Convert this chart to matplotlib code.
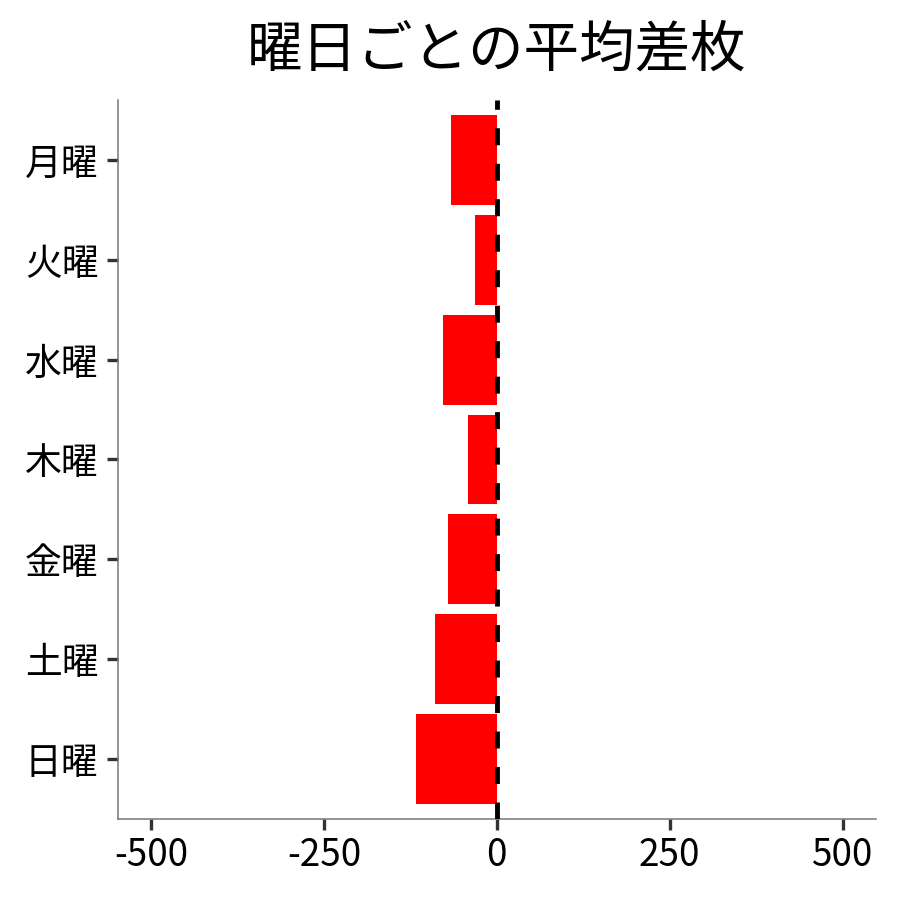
import numpy as np
import matplotlib
matplotlib.use('Agg')
import matplotlib.pyplot as plt

plt.rcParams['font.family'] = ['Noto Sans CJK JP', 'DejaVu Sans']

# ~~ data ~~
days = ['月曜', '火曜', '水曜', '木曜', '金曜', '土曜', '日曜']
avg_diff = [-66, -31, -78, -41, -70, -89, -117]
xticks = [-500, -250, 0, 250, 500]

fig = plt.figure(figsize=(9, 9), dpi=100)
ax = fig.add_axes([0.131, 0.09, 0.842, 0.799])

ypos = np.arange(len(days))
ax.barh(ypos, avg_diff, height=0.9, color='#ff0000', zorder=2)
# dashed zero line on top of the bars
ax.axvline(0, color='black', linewidth=3.5, linestyle=(0, (3.5, 3.8)), zorder=3)

ax.set_yticks(ypos)
ax.set_yticklabels(days)
ax.set_ylim(len(days) - 0.4, -0.6)
ax.set_xticks(xticks)
ax.set_xticklabels([str(v) for v in xticks])
ax.set_xlim(-548, 548)

for s in ['top', 'right']:
    ax.spines[s].set_visible(False)
for s in ['left', 'bottom']:
    ax.spines[s].set_color('#777777')
    ax.spines[s].set_linewidth(1.1)

ax.tick_params(axis='both', length=8, width=2.4, color='#333333', labelsize=26.5, labelcolor='black')
ax.tick_params(axis='y', pad=6)
ax.tick_params(axis='x', pad=4)

ax.set_title('曜日ごとの平均差枚', fontsize=40, pad=24)

plt.savefig('out.png', dpi=100)
plt.close()
